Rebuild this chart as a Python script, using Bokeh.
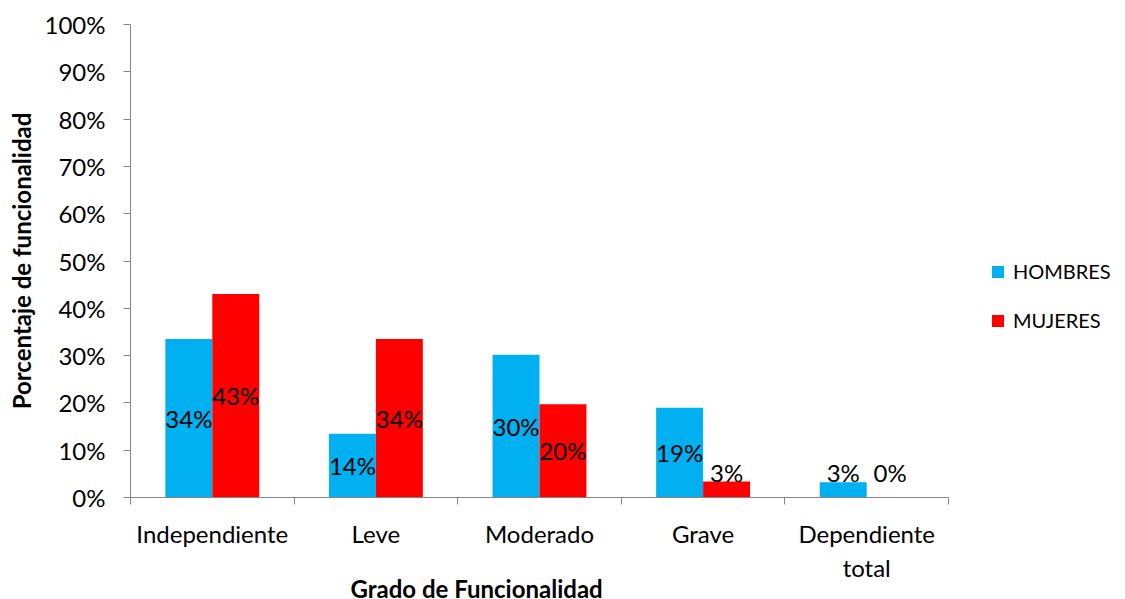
from bokeh.plotting import figure
from bokeh.models import (Range1d, LinearAxis, FixedTicker, Title,
                          NumeralTickFormatter, ColumnDataSource, Legend, LegendItem)
from bokeh.transform import dodge
from bokeh.core.properties import value
from bokeh.embed import file_html
from bokeh.resources import INLINE

categories = ["Independiente", "Leve", "Moderado", "Grave", "Dependiente total"]
cat_labels = ["Independiente", "Leve", "Moderado", "Grave", "Dependiente\ntotal"]
hombres = [0.335, 0.135, 0.302, 0.190, 0.032]
mujeres = [0.430, 0.335, 0.197, 0.034, 0.0]
hombres_lbl = ["34%", "14%", "30%", "19%", "3%"]
mujeres_lbl = ["43%", "34%", "20%", "3%", "0%"]
y_ticks = [0.0, 0.1, 0.2, 0.3, 0.4, 0.5, 0.6, 0.7, 0.8, 0.9, 1.0]

FONT = "Lato"
C_H = "#00B0F0"
C_M = "#FF0000"
AXIS_C = "#868686"
MIN_LBL_Y = 0.053

n = len(categories)
centers = [i + 0.5 for i in range(n)]

src = ColumnDataSource(dict(
    x=centers,
    h=hombres, m=mujeres,
    hl=hombres_lbl, ml=mujeres_lbl,
    hy=[max(v / 2, MIN_LBL_Y) for v in hombres],
    my=[max(v / 2, MIN_LBL_Y) for v in mujeres],
))

W, H = 1125, 599
LEFT, AXIS_RIGHT, TOP, BOTTOM = 130, 948, 24, 102
# frame extends to the right edge (room for the legend); axes are bounded to the categories
x_end = n * (W - LEFT) / (AXIS_RIGHT - LEFT)

p = figure(x_range=Range1d(0, x_end), y_range=Range1d(0, 1),
           width=W, height=H, output_backend="svg", toolbar_location=None,
           x_axis_location=None, y_axis_location=None,
           min_border_left=LEFT, min_border_right=0, min_border_top=TOP, min_border_bottom=BOTTOM)
p.outline_line_color = None
p.xgrid.grid_line_color = None
p.ygrid.grid_line_color = None

BW = 0.287
OFF = BW / 2
rh = p.vbar(x=dodge("x", -OFF), top="h", width=BW, source=src,
            fill_color=C_H, line_color=None)
rm = p.vbar(x=dodge("x", OFF), top="m", width=BW, source=src,
            fill_color=C_M, line_color=None)

for xo, col, ycol in [(-OFF, "hl", "hy"), (OFF, "ml", "my")]:
    p.text(x=dodge("x", xo), y=ycol, text=col, source=src,
           text_align="center", text_baseline="middle", text_color="black",
           text_font=value(FONT), text_font_size="24px")

# y axis
yax = LinearAxis(ticker=FixedTicker(ticks=y_ticks), formatter=NumeralTickFormatter(format="0%"))
yax.axis_line_color = AXIS_C
yax.major_tick_line_color = AXIS_C
yax.major_tick_out = 7
yax.major_tick_in = 0
yax.minor_tick_line_color = None
yax.major_label_standoff = 18
yax.major_label_text_font = FONT
yax.major_label_text_font_size = "24px"
yax.major_label_text_color = "black"
yax.axis_label = "Porcentaje de funcionalidad"
yax.axis_label_text_font = FONT
yax.axis_label_text_font_size = "24px"
yax.axis_label_text_font_style = "bold"
yax.axis_label_text_color = "black"
yax.axis_label_standoff = 6
p.add_layout(yax, "left")

# boundary ticks on x
tax = LinearAxis(ticker=FixedTicker(ticks=list(range(n + 1))), bounds=(0, n))
tax.axis_line_color = AXIS_C
tax.major_tick_line_color = AXIS_C
tax.major_tick_out = 7
tax.major_tick_in = 0
tax.minor_tick_line_color = None
tax.major_label_text_color = None
tax.major_label_standoff = 0
p.add_layout(tax, "below")

# category labels
cax = LinearAxis(ticker=FixedTicker(ticks=centers), bounds=(0, n))
cax.axis_line_color = None
cax.major_tick_line_color = None
cax.minor_tick_line_color = None
cax.major_label_overrides = {c: lbl for c, lbl in zip(centers, cat_labels)}
cax.major_label_standoff = 8
cax.major_label_text_font = FONT
cax.major_label_text_font_size = "24px"
cax.major_label_text_color = "black"
p.add_layout(cax, "below")

# x axis title, placed where the reference has it
xtitle = Title(text="Grado de Funcionalidad", align="left", offset=220, vertical_align="top",
               text_font=FONT, text_font_size="24px", text_font_style="bold",
               text_color="black", standoff=-24)
p.add_layout(xtitle, "below")

legend = Legend(items=[LegendItem(label="HOMBRES", renderers=[rh]),
                       LegendItem(label="MUJERES", renderers=[rm])],
                location=(860, 165), orientation="vertical",
                padding=0, margin=0, spacing=25,
                glyph_width=15, glyph_height=15, label_standoff=8,
                label_text_font=FONT, label_text_font_size="20px", label_text_color="black",
                border_line_color=None, background_fill_alpha=0)
p.add_layout(legend, "center")

open("out.html", "w").write(file_html(p, INLINE))
